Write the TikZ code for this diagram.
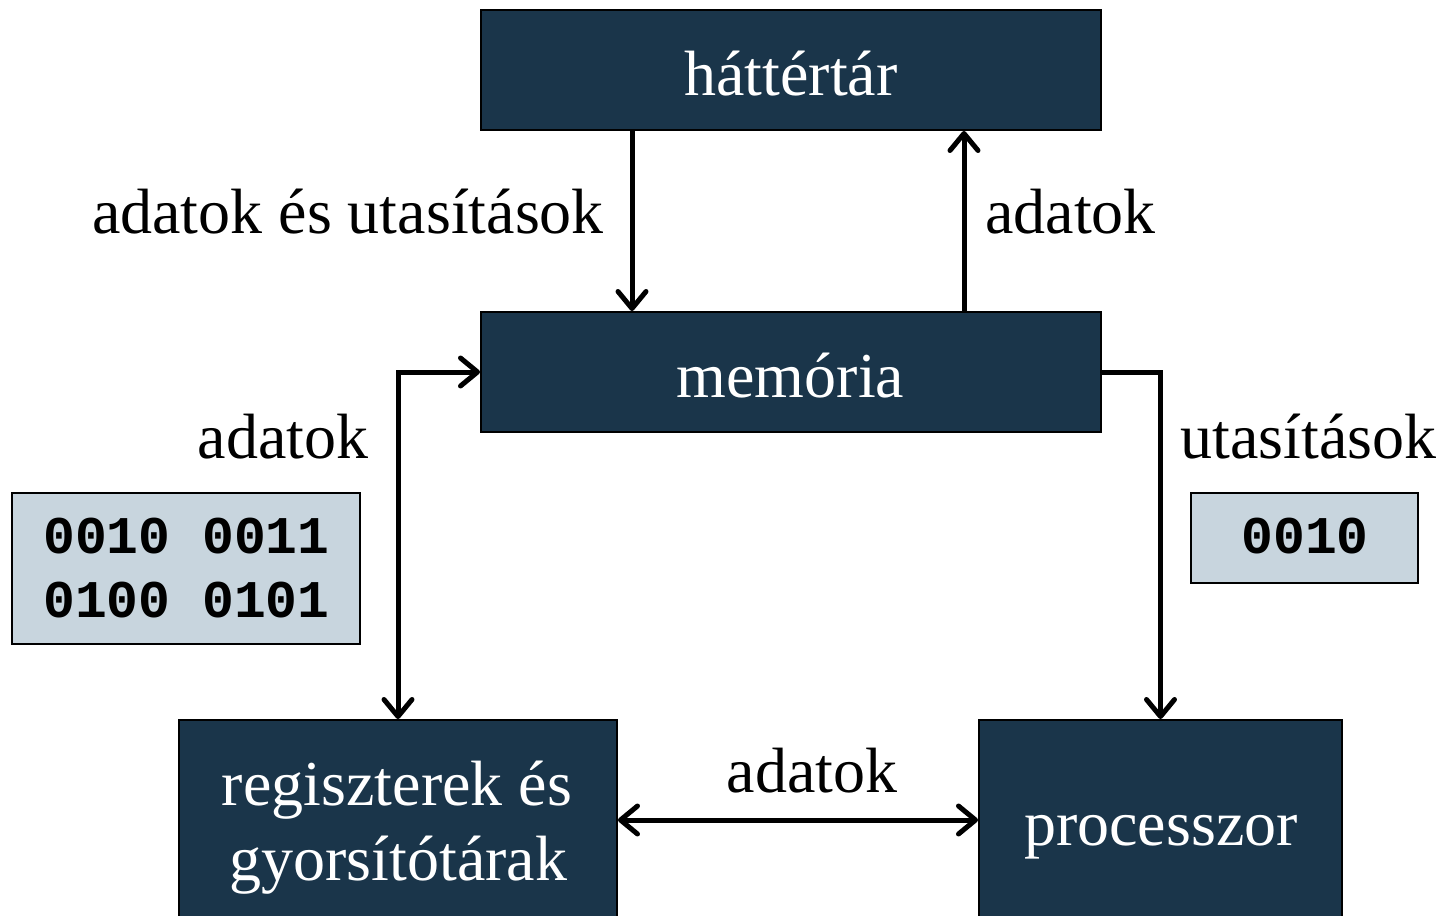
\documentclass[tikz,border=0pt]{standalone}
\usepackage{fontspec}
\setmainfont{Liberation Serif}
\setmonofont{Liberation Mono}
\usetikzlibrary{arrows.meta}
\definecolor{boxdark}{RGB}{26,53,74}
\definecolor{boxlight}{RGB}{200,213,222}
\begin{document}
\begin{tikzpicture}[x=1pt,y=-1pt,
  darkbox/.style={draw=black, line width=2pt, fill=boxdark, inner sep=0pt},
  lightbox/.style={draw=black, line width=2pt, fill=boxlight, inner sep=0pt},
  lbl/.style={inner sep=0pt, anchor=base, font=\fontsize{64}{75}\selectfont},
  boxtxt/.style={lbl, text=white},
  mono/.style={inner sep=0pt, anchor=base, align=center, font=\fontsize{53}{64}\selectfont\ttfamily\bfseries},
  conn/.style={line width=5pt, >={Straight Barb[length=17pt,width=28pt,round]}}
]
\useasboundingbox (0,0) rectangle (1444,916);
% boxes
\node[darkbox, minimum width=620pt, minimum height=120pt] (hatter) at (791,70) {};
\node[darkbox, minimum width=620pt, minimum height=120pt] (memoria) at (791,372) {};
\node[darkbox, minimum width=438pt, minimum height=216pt] (reg) at (398,828) {};
\node[darkbox, minimum width=363pt, minimum height=216pt] (proc) at (1160.5,828) {};
\node[lightbox, minimum width=348pt, minimum height=151pt] (dat) at (186,568.5) {};
\node[lightbox, minimum width=227pt, minimum height=90pt] (utas) at (1304.5,538) {};
% box texts
\node[boxtxt] (thatter) at (791,95) {háttértár};
\node[boxtxt] (tmem) at (790.5,397) {memória};
\node[boxtxt] (treg1) at (397,805) {regiszterek és};
\node[boxtxt] (treg2) at (398.5,880) {gyorsítótárak};
\node[boxtxt] (tproc) at (1161,845) {processzor};
\node[mono] (tdat1) at (186.5,553) {0010 0011};
\node[mono] (tdat2) at (186.5,617) {0100 0101};
\node[mono] (tutas) at (1305,553) {0010};
% labels
\node[lbl] (l1) at (348,233) {adatok és utasítások};
\node[lbl, anchor=base west] (l2) at (985,233) {adatok};
\node[lbl] (l3) at (283,458) {adatok};
\node[lbl] (l4) at (1308.5,458) {utasítások};
\node[lbl] (l5) at (812,792) {adatok};
% helper coordinates
\coordinate (xa) at (632,0);
\coordinate (xb) at (964,0);
\coordinate (yb) at (0,820);
% connectors
\draw[conn,->] (hatter.south -| xa) -- (memoria.north -| xa);
\draw[conn,->] (memoria.north -| xb) -- (hatter.south -| xb);
\draw[conn,<->] (memoria.west) -| (reg.north);
\draw[conn,->] (memoria.east) -| (proc.north);
\draw[conn,<->] (reg.east |- yb) -- (proc.west |- yb);
\end{tikzpicture}
\end{document}
